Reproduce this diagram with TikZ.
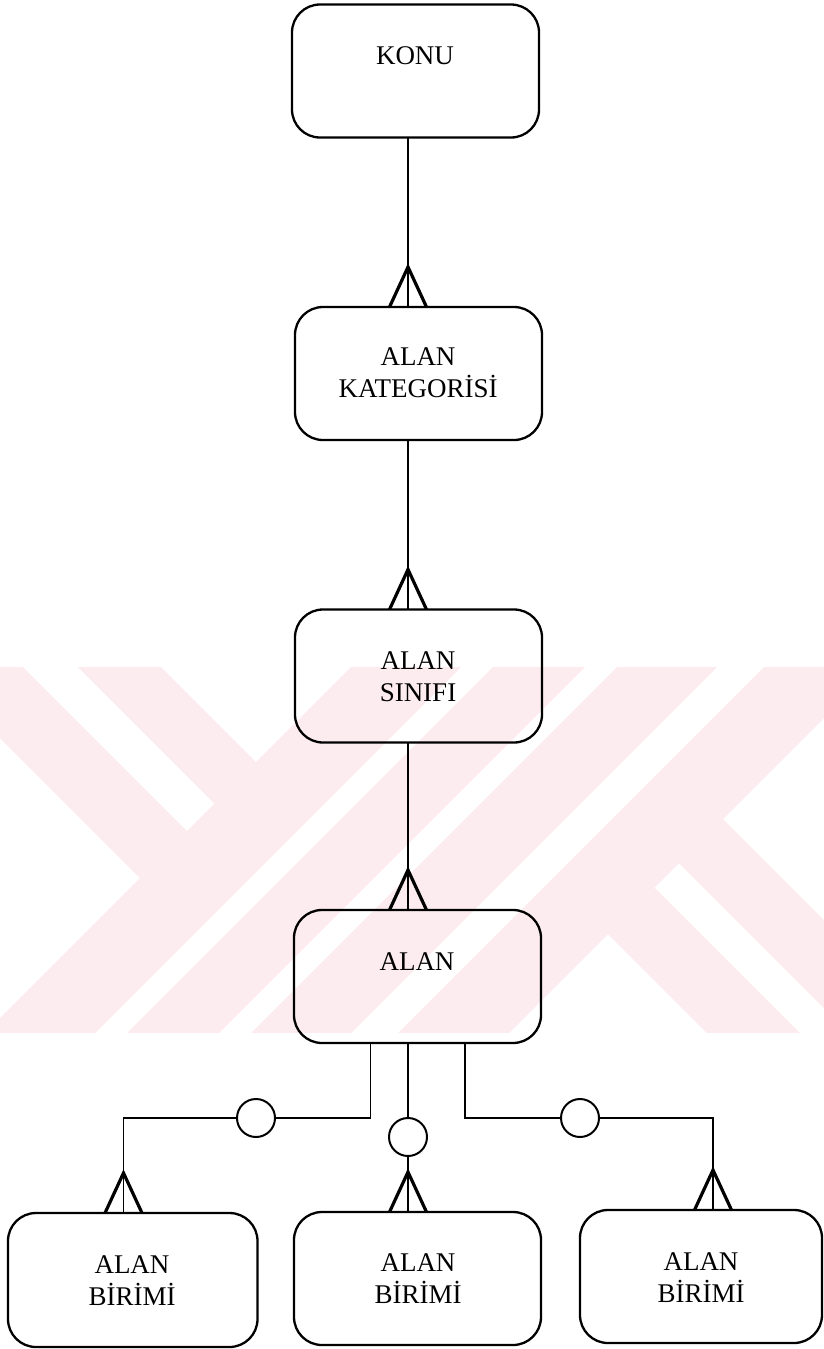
\documentclass[tikz,border=0pt]{standalone}
\usepackage{fontspec}
\setmainfont{Liberation Serif}
\usetikzlibrary{calc}
\definecolor{wm}{RGB}{252,235,239}
\newcommand\cfoot[1]{\draw[foot] ($(#1)+(-18.5,0)$) -- ($(#1)+(0,-40)$) -- ($(#1)+(18.5,0)$);}
\begin{document}
\begin{tikzpicture}[x=0.5pt,y=-0.5pt,
  ebox/.style={draw, line width=1.15pt, rounded corners=14pt, inner sep=0pt, outer sep=0pt,
    minimum width=123.5pt, minimum height=66.5pt},
  lbl/.style={font=\fontsize{13.5}{16}\selectfont, align=center, inner sep=0pt},
  conn/.style={line width=0.8pt},
  foot/.style={line width=1.6pt},
  oc/.style={draw, circle, line width=1pt, inner sep=0pt, outer sep=0pt, minimum size=19pt}]
\useasboundingbox (0,0) rectangle (824,1349);
% watermark
\begin{scope}
\clip (0,667) rectangle (824,1032);
\fill[wm] (-44,600) -- (187,831) -- (140,878) -- (-138,600) -- cycle;
\fill[wm] (94,600) -- (256,762) -- (214.5,803.5) -- (11,600) -- cycle;
\fill[wm] (418,600) -- (528,600) -- (28,1100) -- (-82,1100) -- cycle;
\fill[wm] (560,600) -- (652,600) -- (152,1100) -- (60,1100) -- cycle;
\fill[wm] (684,600) -- (784,600) -- (284,1100) -- (184,1100) -- cycle;
\fill[wm] (831,600) -- (942,600) -- (442,1100) -- (331,1100) -- cycle;
\fill[wm] (722.5,818.5) -- (900,996) -- (900,1084) -- (678.5,862.5) -- cycle;
\fill[wm] (654.5,887.5) -- (900,1133) -- (900,1226) -- (608,934) -- cycle;
\end{scope}
% boxes
\node[ebox] (konu) at (415.5,71) {};
\node[ebox] (kat) at (418.5,373.5) {};
\node[ebox] (sin) at (418.5,676) {};
\node[ebox] (alan) at (417.5,976.5) {};
\node[ebox, minimum width=124.75pt, minimum height=67pt] (b1) at (132.75,1280) {};
\node[ebox] (b2) at (417.5,1278.5) {};
\node[ebox, minimum width=121pt] (b3) at (701,1276.5) {};
% labels
\node[lbl] (konut) at (415,56) {KONU};
\node[lbl] (katt) at (418,373) {ALAN\\KATEGORİSİ};
\node[lbl] (sint) at (418,677) {ALAN\\SINIFI};
\node[lbl] (alant) at (417,962) {ALAN};
\node[lbl] (b1t) at (132,1281) {ALAN\\BİRİMİ};
\node[lbl] (b2t) at (418,1279) {ALAN\\BİRİMİ};
\node[lbl] (b3t) at (701,1278) {ALAN\\BİRİMİ};
% main spine
\coordinate (m) at (408,0);
\coordinate (f1) at (kat.north -| m);
\coordinate (f2) at (sin.north -| m);
\coordinate (f3) at (alan.north -| m);
\draw[conn] (konu.south -| m) -- (f1);
\draw[conn] (kat.south -| m) -- (f2);
\draw[conn] (sin.south -| m) -- (f3);
\cfoot{f1}
\cfoot{f2}
\cfoot{f3}
% bottom branches
\coordinate (l1) at (370.5,1118);
\coordinate (l2) at (123.5,1118);
\node[oc] (c1) at (256,1118) {};
\draw[conn] (alan.south -| l1) -- (l1) -- (c1);
\draw[conn] (c1) -- (l2) -- (b1.north -| l2);
\coordinate (g1) at (b1.north -| l2);
\cfoot{g1}
\node[oc] (c2) at (408,1137) {};
\draw[conn] (alan.south -| c2) -- (c2);
\draw[conn] (c2) -- (b2.north -| c2);
\coordinate (g2) at (b2.north -| c2);
\cfoot{g2}
\coordinate (r1) at (465,1118);
\coordinate (r2) at (713,1118);
\node[oc] (c3) at (580,1118) {};
\draw[conn] (alan.south -| r1) -- (r1) -- (c3);
\draw[conn] (c3) -- (r2) -- (b3.north -| r2);
\coordinate (g3) at (b3.north -| r2);
\cfoot{g3}
\end{tikzpicture}
\end{document}
